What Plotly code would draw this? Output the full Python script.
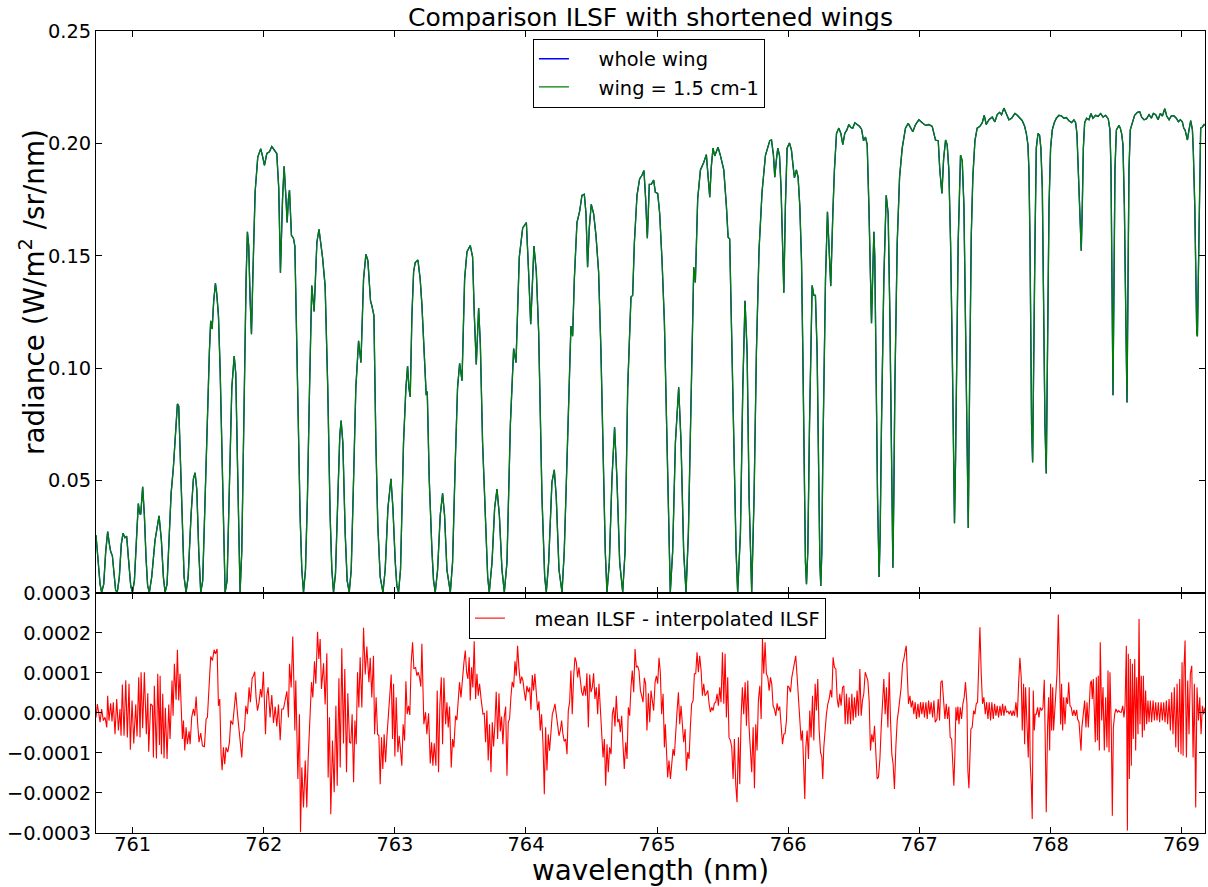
import plotly.graph_objects as go
from plotly.subplots import make_subplots

# ---------------- top panel: radiance spectrum (nm, W/m2/sr/nm) ----------------
wavelength_top = [
    760.720, 760.738, 760.751, 760.763, 760.779, 760.794, 760.809, 760.822, 760.832, 760.845,
    760.858, 760.870, 760.883, 760.898, 760.913, 760.926, 760.941, 760.954, 760.970, 760.985,
    760.998, 761.013, 761.031, 761.043, 761.053, 761.061, 761.076, 761.089, 761.102, 761.114,
    761.127, 761.145, 761.170, 761.201, 761.219, 761.234, 761.247, 761.262, 761.277, 761.293,
    761.310, 761.326, 761.341, 761.351, 761.364, 761.379, 761.392, 761.407, 761.423, 761.445,
    761.463, 761.476, 761.489, 761.504, 761.519, 761.534, 761.552, 761.565, 761.578, 761.585,
    761.595, 761.606, 761.618, 761.631, 761.641, 761.654, 761.667, 761.679, 761.692, 761.705,
    761.720, 761.738, 761.756, 761.774, 761.786, 761.799, 761.809, 761.819, 761.832, 761.850,
    761.865, 761.875, 761.885, 761.896, 761.906, 761.916, 761.924, 761.934, 761.954, 761.977,
    761.992, 762.005, 762.023, 762.043, 762.061, 762.079, 762.099, 762.114, 762.127, 762.143,
    762.155, 762.168, 762.178, 762.188, 762.196, 762.211, 762.226, 762.237, 762.252, 762.265,
    762.277, 762.290, 762.303, 762.318, 762.333, 762.349, 762.366, 762.384, 762.405, 762.421,
    762.448, 762.468, 762.488, 762.506, 762.519, 762.532, 762.547, 762.565, 762.580, 762.590,
    762.603, 762.621, 762.636, 762.652, 762.667, 762.685, 762.702, 762.723, 762.741, 762.761,
    762.779, 762.794, 762.814, 762.825, 762.840, 762.855, 762.870, 762.888, 762.909, 762.926,
    762.947, 762.970, 762.985, 763.003, 763.015, 763.028, 763.043, 763.066, 763.084, 763.097,
    763.107, 763.117, 763.130, 763.143, 763.155, 763.176, 763.193, 763.206, 763.224, 763.239,
    763.247, 763.262, 763.283, 763.295, 763.308, 763.326, 763.346, 763.364, 763.379, 763.397,
    763.423, 763.440, 763.461, 763.478, 763.494, 763.512, 763.532, 763.550, 763.575, 763.593,
    763.606, 763.621, 763.639, 763.652, 763.669, 763.695, 763.708, 763.720, 763.741, 763.761,
    763.779, 763.797, 763.817, 763.835, 763.855, 763.881, 763.906, 763.924, 763.949, 763.975,
    764.003, 764.020, 764.036, 764.046, 764.061, 764.079, 764.097, 764.122, 764.143,
    764.155, 764.173, 764.198, 764.216, 764.231, 764.252, 764.275, 764.292, 764.313, 764.328,
    764.343, 764.356, 764.369, 764.389, 764.409, 764.427, 764.445, 764.458, 764.470, 764.483,
    764.498, 764.516, 764.534, 764.554, 764.572, 764.593, 764.605, 764.618, 764.636, 764.656,
    764.676, 764.694, 764.715, 764.738, 764.756, 764.776, 764.801, 764.814, 764.827, 764.847,
    764.867, 764.885, 764.900, 764.913, 764.926, 764.941, 764.956, 764.974, 764.987, 765.005,
    765.020, 765.038, 765.056, 765.076, 765.089, 765.101, 765.119, 765.140, 765.165, 765.183,
    765.203, 765.221, 765.239, 765.254, 765.267, 765.280, 765.292, 765.310, 765.331, 765.356,
    765.376, 765.389, 765.402, 765.414, 765.427, 765.440, 765.465, 765.483, 765.509, 765.529,
    765.542, 765.554, 765.572, 765.590, 765.603, 765.615, 765.636, 765.654, 765.671, 765.687,
    765.702, 765.722, 765.740, 765.758, 765.778, 765.801, 765.827, 765.860,
    765.873, 765.888, 765.898, 765.911, 765.921, 765.934, 765.946, 765.957, 765.967, 765.979,
    765.992, 766.010, 766.025, 766.038, 766.048, 766.063, 766.076, 766.089, 766.102, 766.112,
    766.122, 766.132, 766.140, 766.150, 766.163, 766.173, 766.183, 766.196, 766.208, 766.221,
    766.234, 766.242, 766.249, 766.257, 766.264, 766.275, 766.285, 766.300, 766.310, 766.325,
    766.341, 766.353, 766.369, 766.387, 766.402, 766.417, 766.432, 766.448, 766.463, 766.478,
    766.493, 766.509, 766.526, 766.544, 766.560, 766.575, 766.590, 766.603, 766.616, 766.626,
    766.636, 766.646, 766.654, 766.661, 766.672, 766.682, 766.694, 766.702, 766.712, 766.730,
    766.748, 766.763, 766.776, 766.789, 766.799, 766.806, 766.814, 766.832, 766.850, 766.870,
    766.895, 766.916, 766.934, 766.951, 766.972, 766.997, 767.023, 767.048, 767.074, 767.099,
    767.112, 767.124, 767.145, 767.157, 767.173, 767.186, 767.201, 767.213, 767.226, 767.239,
    767.252, 767.262, 767.269, 767.277, 767.287, 767.297, 767.315, 767.328, 767.341, 767.353,
    767.364, 767.374, 767.384, 767.397, 767.409, 767.425, 767.442, 767.463, 767.481, 767.496,
    767.511, 767.532, 767.557,
    767.577, 767.595, 767.613, 767.628, 767.646, 767.664, 767.684, 767.705, 767.730, 767.748,
    767.766, 767.786, 767.804, 767.817, 767.829, 767.837, 767.845, 767.852, 767.857, 767.865,
    767.873, 767.883, 767.893, 767.906, 767.918, 767.928, 767.939, 767.949, 767.959, 767.969,
    767.979, 767.990, 768.002, 768.015, 768.030, 768.046, 768.066, 768.086, 768.104, 768.122,
    768.142, 768.163, 768.180, 768.193, 768.203, 768.213, 768.221, 768.229, 768.236, 768.244,
    768.252, 768.262, 768.277, 768.295, 768.310, 768.325, 768.346, 768.364, 768.384, 768.402,
    768.422, 768.442, 768.455, 768.463, 768.468, 768.473, 768.478, 768.486, 768.493, 768.504,
    768.514, 768.524, 768.534, 768.544, 768.554, 768.565, 768.572, 768.580, 768.585, 768.593,
    768.600, 768.610, 768.626, 768.643, 768.664, 768.682, 768.697, 768.715, 768.733, 768.753,
    768.771, 768.786, 768.804, 768.822, 768.839, 768.855, 768.873, 768.888, 768.906, 768.923,
    768.944, 768.961, 768.977, 768.992, 769.007, 769.018, 769.028, 769.038, 769.046, 769.058,
    769.071, 769.084, 769.091, 769.102, 769.109, 769.117, 769.122, 769.129, 769.137, 769.147,
    769.160, 769.173, 769.180,
]

radiance_short_wing = [
    0.0257, 0.0120, 0.0039, 0.0003, 0.0039, 0.0184, 0.0273, 0.0217, 0.0184, 0.0165,
    0.0071, 0.0010, 0.0006, 0.0071, 0.0217, 0.0265, 0.0246, 0.0252, 0.0136, 0.0031,
    0.0003, 0.0055, 0.0265, 0.0398, 0.0354, 0.0349, 0.0472, 0.0346, 0.0152, 0.0031,
    0.0003, 0.0071, 0.0233, 0.0343, 0.0233, 0.0071, 0.0003, 0.0039, 0.0233, 0.0443,
    0.0556, 0.0702, 0.0841, 0.0831, 0.0589, 0.0265, 0.0071, 0.0003, 0.0071, 0.0346,
    0.0508, 0.0535, 0.0459, 0.0184, 0.0003, 0.0055, 0.0427, 0.0750, 0.0912, 0.1074,
    0.1211, 0.1174, 0.1300, 0.1378, 0.1332, 0.1235, 0.0993, 0.0669, 0.0265, 0.0003,
    0.0055, 0.0427, 0.0912, 0.1054, 0.0977, 0.0589, 0.0184, 0.0003, 0.0184, 0.0912,
    0.1397, 0.1607, 0.1543, 0.1300, 0.1151, 0.1397, 0.1624, 0.1785, 0.1939, 0.1976,
    0.1939, 0.1902, 0.1955, 0.1963, 0.1986, 0.1971, 0.1955, 0.1801, 0.1425, 0.1753,
    0.1898, 0.1769, 0.1648, 0.1753, 0.1792, 0.1591, 0.1578, 0.1543, 0.1074, 0.0669,
    0.0346, 0.0103, 0.0003, 0.0103, 0.0427, 0.0912, 0.1368, 0.1252, 0.1559, 0.1618,
    0.1494, 0.1365, 0.0912, 0.0346, 0.0103, 0.0003, 0.0087, 0.0427, 0.0702, 0.0767,
    0.0669, 0.0265, 0.0055, 0.0003, 0.0103, 0.0508, 0.0912, 0.1122, 0.1025, 0.1397,
    0.1507, 0.1478, 0.1300, 0.1276, 0.1235, 0.0669, 0.0298, 0.0071, 0.0003, 0.0103,
    0.0378, 0.0508, 0.0378, 0.0136, 0.0031, 0.0003, 0.0103, 0.0669, 0.0912, 0.1009,
    0.0912, 0.0872, 0.1235, 0.1429, 0.1470, 0.1481, 0.1397, 0.1284, 0.1074, 0.0880,
    0.0896, 0.0508, 0.0184, 0.0055, 0.0003, 0.0103, 0.0346, 0.0443, 0.0346, 0.0103,
    0.0003, 0.0136, 0.0589, 0.0912, 0.1022, 0.0944, 0.1397, 0.1518, 0.1546, 0.1494,
    0.1235, 0.1017, 0.1268, 0.1106, 0.0669, 0.0265, 0.0071, 0.0003, 0.0136, 0.0378,
    0.0462, 0.0346, 0.0103, 0.0003, 0.0136, 0.0750, 0.1087, 0.1025, 0.1494, 0.1624,
    0.1648, 0.1429, 0.1195, 0.1332, 0.1543, 0.1429, 0.1155, 0.0427, 0.0071,
    0.0003, 0.0136, 0.0492, 0.0548, 0.0427, 0.0103, 0.0003, 0.0184, 0.0589, 0.0912,
    0.1187, 0.1142, 0.1397, 0.1648, 0.1696, 0.1769, 0.1774, 0.1688, 0.1449, 0.1624,
    0.1729, 0.1688, 0.1591, 0.1429, 0.1074, 0.0508, 0.0184, 0.0003, 0.0136, 0.0508,
    0.0737, 0.0508, 0.0136, 0.0003, 0.0184, 0.0912, 0.1316, 0.1324, 0.1559, 0.1769,
    0.1842, 0.1858, 0.1879, 0.1753, 0.1578, 0.1818, 0.1818, 0.1837, 0.1782, 0.1777,
    0.1688, 0.1478, 0.1203, 0.0669, 0.0265, 0.0003, 0.0184, 0.0669, 0.0915, 0.0669,
    0.0184, 0.0003, 0.0265, 0.0750, 0.1155, 0.1449, 0.1381, 0.1753, 0.1882, 0.1915,
    0.1950, 0.1850, 0.1761, 0.1898, 0.1979, 0.1944, 0.1983, 0.1947, 0.1882, 0.1721,
    0.1583, 0.1575, 0.1074, 0.0508, 0.0184, 0.0003, 0.0265, 0.0912, 0.1300, 0.1074,
    0.0427, 0.0003, 0.0427, 0.1074, 0.1527, 0.1785, 0.1947, 0.2012,
    0.2015, 0.1947, 0.1850, 0.1931, 0.1979, 0.1947, 0.1801, 0.1559, 0.1336, 0.1721,
    0.1979, 0.2002, 0.1971, 0.1898, 0.1847, 0.1882, 0.1850, 0.1721, 0.1478, 0.1074,
    0.0508, 0.0136, 0.0039, 0.0184, 0.0750, 0.1155, 0.1368, 0.1324, 0.1324, 0.1074,
    0.0427, 0.0136, 0.0031, 0.0184, 0.0589, 0.1074, 0.1397, 0.1696, 0.1559, 0.1365,
    0.1688, 0.1882, 0.2044, 0.2068, 0.2044, 0.1995, 0.2044, 0.2060, 0.2084, 0.2071,
    0.2068, 0.2092, 0.2084, 0.2076, 0.2063, 0.2012, 0.2028, 0.1995, 0.1721, 0.1478,
    0.1200, 0.1429, 0.1607, 0.1494, 0.0912, 0.0427, 0.0071, 0.0265, 0.0750, 0.1397,
    0.1769, 0.1688, 0.1235, 0.0589, 0.0112, 0.0427, 0.0912, 0.1559, 0.1850, 0.1979,
    0.2068, 0.2089, 0.2068, 0.2052, 0.2084, 0.2105, 0.2092, 0.2080, 0.2084, 0.2076,
    0.2044, 0.2015, 0.2012, 0.1882, 0.1777, 0.1931, 0.2015, 0.1995, 0.1882, 0.1559,
    0.1074, 0.0589, 0.0310, 0.0589, 0.1155, 0.1559, 0.1947, 0.1923, 0.1721, 0.1235,
    0.0669, 0.0289, 0.0912, 0.1591, 0.1850, 0.2012, 0.2068, 0.2076, 0.2092, 0.2125,
    0.2084, 0.2105, 0.2117,
    0.2096, 0.2128, 0.2138, 0.2128, 0.2157, 0.2133, 0.2105, 0.2112, 0.2133, 0.2125,
    0.2112, 0.2101, 0.2076, 0.2044, 0.1995, 0.1882, 0.1559, 0.1074, 0.0750, 0.0581,
    0.0912, 0.1559, 0.1979, 0.2044, 0.2036, 0.1979, 0.1801, 0.1235, 0.0750, 0.0532,
    0.1074, 0.1721, 0.1979, 0.2060, 0.2092, 0.2112, 0.2125, 0.2122, 0.2112, 0.2115,
    0.2101, 0.2092, 0.2105, 0.2092, 0.2044, 0.1882, 0.1721, 0.1591, 0.1523, 0.1721,
    0.1979, 0.2092, 0.2112, 0.2105, 0.2133, 0.2112, 0.2125, 0.2120, 0.2133, 0.2117,
    0.2125, 0.2109, 0.2060, 0.1882, 0.1559, 0.1155, 0.0880, 0.1397, 0.1882, 0.2060,
    0.2068, 0.2080, 0.2068, 0.2044, 0.1995, 0.1721, 0.1397, 0.1074, 0.0847, 0.1397,
    0.1882, 0.2060, 0.2092, 0.2125, 0.2138, 0.2141, 0.2117, 0.2105, 0.2109, 0.2128,
    0.2112, 0.2133, 0.2128, 0.2105, 0.2133, 0.2122, 0.2154, 0.2122, 0.2105, 0.2122,
    0.2122, 0.2112, 0.2096, 0.2105, 0.2096, 0.2068, 0.2060, 0.2036, 0.2015, 0.2060,
    0.2101, 0.2060, 0.1963, 0.1721, 0.1397, 0.1155, 0.1142, 0.1397, 0.1801, 0.2068,
    0.2073, 0.2084, 0.2080,
]

# "whole wing" and "wing = 1.5 cm-1" are indistinguishable at this scale
radiance_whole_wing = list(radiance_short_wing)

# ---------------- bottom panel: mean ILSF - interpolated ILSF ----------------
wavelength_res = [
    760.720, 760.730, 760.740, 760.751, 760.763, 760.776, 760.789, 760.802, 760.809, 760.819,
    760.832, 760.842, 760.852, 760.865, 760.878, 760.891, 760.903, 760.911, 760.921, 760.934,
    760.947, 760.959, 760.972, 760.982, 760.995, 761.008, 761.023, 761.033, 761.046, 761.056,
    761.064, 761.076, 761.089, 761.104, 761.115, 761.122, 761.137, 761.150, 761.158, 761.165,
    761.181, 761.191, 761.204, 761.209, 761.219, 761.229, 761.239, 761.249, 761.262, 761.275,
    761.285, 761.300, 761.308, 761.318, 761.331, 761.341, 761.351, 761.361, 761.369, 761.379,
    761.387, 761.397, 761.407, 761.417, 761.430, 761.438, 761.450, 761.463, 761.473, 761.484,
    761.494, 761.506, 761.519, 761.532, 761.547, 761.560, 761.570, 761.585, 761.595, 761.608,
    761.621, 761.631, 761.644, 761.654, 761.664, 761.674, 761.682, 761.692, 761.702, 761.712,
    761.725, 761.738, 761.748, 761.763, 761.774, 761.786, 761.799, 761.812, 761.824, 761.832,
    761.842, 761.852, 761.863, 761.875, 761.888, 761.898, 761.911, 761.921, 761.931, 761.941,
    761.952, 761.964, 761.975, 761.985, 761.997, 762.013, 762.023, 762.033, 762.048, 762.061,
    762.074, 762.087, 762.099, 762.112, 762.125, 762.137, 762.150, 762.163, 762.176, 762.188,
    762.196, 762.209, 762.221, 762.229, 762.237, 762.244, 762.252, 762.260, 762.272, 762.280,
    762.290, 762.303, 762.316, 762.328, 762.338, 762.346, 762.354, 762.364, 762.374, 762.387,
    762.397, 762.410, 762.420, 762.430, 762.440, 762.456, 762.468, 762.481, 762.491, 762.501,
    762.511, 762.524, 762.537, 762.550, 762.560, 762.573, 762.583, 762.595, 762.608, 762.618,
    762.631, 762.641, 762.654, 762.664, 762.674, 762.685, 762.695, 762.705, 762.715, 762.725,
    762.735, 762.748, 762.761, 762.774, 762.786, 762.802, 762.812, 762.824, 762.837,
    762.845, 762.857, 762.868, 762.878, 762.888, 762.898, 762.908, 762.918, 762.929, 762.939,
    762.951, 762.962, 762.972, 762.982, 762.990, 763.000, 763.010, 763.023, 763.033, 763.043,
    763.053, 763.063, 763.074, 763.084, 763.094, 763.104, 763.114, 763.124, 763.135, 763.145,
    763.158, 763.168, 763.178, 763.188, 763.198, 763.206, 763.214, 763.221, 763.234, 763.244,
    763.257, 763.270, 763.280, 763.290, 763.300, 763.313, 763.323, 763.333, 763.343, 763.354,
    763.364, 763.374, 763.387, 763.397, 763.407, 763.417, 763.430, 763.440, 763.450, 763.463,
    763.473, 763.483, 763.493, 763.504, 763.516, 763.527, 763.537, 763.547, 763.557, 763.567,
    763.575, 763.585, 763.595, 763.605, 763.616, 763.626, 763.636, 763.646, 763.659, 763.672,
    763.682, 763.692, 763.702, 763.712, 763.722, 763.733, 763.743, 763.753, 763.763, 763.773,
    763.784, 763.794, 763.804, 763.814, 763.824, 763.834, 763.845, 763.855, 763.865, 763.875,
    763.885, 763.895, 763.906, 763.916, 763.926, 763.936, 763.946, 763.957, 763.967, 763.977,
    763.987, 763.997, 764.007, 764.018, 764.028, 764.038, 764.048, 764.058, 764.068, 764.079,
    764.089, 764.099, 764.109, 764.119, 764.130, 764.140, 764.150, 764.160, 764.170, 764.180,
    764.191, 764.201, 764.211, 764.221, 764.231, 764.241, 764.252, 764.262, 764.272, 764.282,
    764.292, 764.303, 764.313, 764.323, 764.333, 764.343, 764.353, 764.364, 764.374, 764.384,
    764.394, 764.404, 764.415, 764.425, 764.435, 764.445, 764.455, 764.465, 764.476, 764.486,
    764.496, 764.506, 764.516, 764.526, 764.537, 764.547, 764.557, 764.567, 764.577, 764.588,
    764.598, 764.608, 764.618, 764.628, 764.638, 764.649, 764.659, 764.669, 764.679, 764.689,
    764.700, 764.710, 764.720, 764.730, 764.740, 764.750, 764.761, 764.771, 764.781, 764.791,
    764.801, 764.811, 764.822, 764.832, 764.842, 764.852, 764.862, 764.873, 764.883, 764.893,
    764.903, 764.913, 764.923, 764.934, 764.944, 764.954, 764.964, 764.974, 764.985,
    764.995, 765.005, 765.015, 765.025, 765.035, 765.046, 765.056, 765.063, 765.071, 765.081,
    765.091, 765.102, 765.112, 765.122, 765.132, 765.142, 765.152, 765.163, 765.173, 765.183,
    765.193, 765.203, 765.214, 765.224, 765.234, 765.244, 765.254, 765.264, 765.275, 765.285,
    765.295, 765.305, 765.315, 765.325, 765.336, 765.346, 765.356, 765.366, 765.376, 765.387,
    765.397, 765.407, 765.417, 765.427, 765.437, 765.448, 765.458, 765.468, 765.478, 765.488,
    765.499, 765.509, 765.519, 765.529, 765.539, 765.549, 765.560, 765.570, 765.580, 765.590,
    765.600, 765.610, 765.621, 765.631, 765.641, 765.651, 765.661, 765.672, 765.682, 765.692,
    765.702, 765.712, 765.722, 765.733, 765.743, 765.753, 765.763, 765.773, 765.784, 765.794,
    765.804, 765.814, 765.824, 765.834, 765.845, 765.855, 765.865, 765.875, 765.885, 765.895,
    765.906, 765.916, 765.926, 765.936, 765.946, 765.957, 765.967, 765.977, 765.987, 765.997,
    766.007, 766.018, 766.028, 766.038, 766.048, 766.058, 766.068, 766.079, 766.089, 766.099,
    766.109, 766.119, 766.127, 766.135, 766.145, 766.155, 766.165, 766.175, 766.186, 766.196,
    766.206, 766.216, 766.226, 766.236, 766.247, 766.257, 766.264, 766.272, 766.282, 766.292,
    766.303, 766.313, 766.323, 766.333, 766.343, 766.353, 766.364, 766.374, 766.384, 766.394,
    766.404, 766.415, 766.425, 766.435, 766.445, 766.455, 766.465, 766.476, 766.486, 766.496,
    766.506, 766.516, 766.526, 766.537, 766.547, 766.557, 766.567, 766.577, 766.588, 766.598,
    766.608, 766.618, 766.628, 766.638, 766.649, 766.659, 766.669, 766.679, 766.689, 766.700,
    766.710, 766.720, 766.730, 766.740, 766.750, 766.761, 766.771, 766.781, 766.791, 766.801,
    766.811, 766.822, 766.832, 766.842, 766.852, 766.862, 766.873, 766.883, 766.893, 766.901,
    766.908, 766.918, 766.929, 766.939, 766.949, 766.959, 766.969, 766.979, 766.990, 767.000,
    767.010, 767.020, 767.030, 767.040, 767.051, 767.061, 767.071, 767.081, 767.091, 767.102,
    767.112, 767.122,
    767.135, 767.145, 767.155, 767.165, 767.175, 767.186, 767.196, 767.206, 767.216, 767.226,
    767.236, 767.247, 767.257, 767.264, 767.272, 767.280, 767.287, 767.295, 767.303, 767.313,
    767.323, 767.333, 767.343, 767.353, 767.364, 767.371, 767.379, 767.387, 767.394, 767.404,
    767.415, 767.425, 767.435, 767.445, 767.455, 767.463, 767.473, 767.483, 767.493, 767.504,
    767.514, 767.524, 767.534, 767.544, 767.554, 767.565, 767.575, 767.585, 767.595, 767.605,
    767.616, 767.626, 767.636, 767.646, 767.656, 767.666, 767.677, 767.687, 767.697, 767.707,
    767.717, 767.727, 767.738, 767.748, 767.758, 767.768, 767.778, 767.786, 767.796, 767.804,
    767.811, 767.822, 767.832, 767.839, 767.847, 767.855, 767.862, 767.870, 767.878, 767.885,
    767.893, 767.903, 767.913, 767.923, 767.934, 767.944, 767.954, 767.962, 767.969, 767.979,
    767.987, 767.995, 768.002, 768.010, 768.018, 768.025, 768.033, 768.043, 768.051, 768.061,
    768.071, 768.079, 768.086, 768.094, 768.102, 768.112, 768.122, 768.132, 768.140, 768.150,
    768.160, 768.170, 768.180, 768.191, 768.201, 768.208, 768.219, 768.226, 768.234, 768.241,
    768.252, 768.262, 768.272, 768.280, 768.290, 768.297, 768.305, 768.313, 768.320, 768.328,
    768.336, 768.343, 768.351, 768.359, 768.366, 768.374, 768.381, 768.392, 768.402, 768.412,
    768.422, 768.432, 768.440, 768.448, 768.455, 768.465, 768.473, 768.481, 768.491, 768.501,
    768.511, 768.521, 768.532, 768.542, 768.552, 768.562, 768.570, 768.580, 768.588, 768.595,
    768.603, 768.610, 768.618, 768.626, 768.633, 768.644, 768.651, 768.659, 768.669, 768.677,
    768.684, 768.694, 768.702, 768.710, 768.717, 768.727, 768.735, 768.745, 768.753, 768.763,
    768.773, 768.784, 768.794, 768.804, 768.814, 768.824, 768.834, 768.845, 768.855, 768.865,
    768.875, 768.885, 768.895, 768.906, 768.916, 768.926, 768.936, 768.946, 768.957, 768.967,
    768.977, 768.987, 768.997, 769.005, 769.013, 769.020, 769.028, 769.038, 769.048, 769.058,
    769.068, 769.079, 769.089, 769.099, 769.109, 769.119, 769.130, 769.140, 769.150, 769.160,
    769.170, 769.180,
]

# residual values in units of 1e-4 W/m2/sr/nm
residual_e4 = [
    -0.11, 0.22, 0.02, -0.23, 0.10, -0.19, -0.11, -0.36, 0.43, -0.19,
    0.24, -0.21, 0.27, -0.53, 0.35, -0.44, 0.10, -0.57, 0.71, -0.57,
    0.82, -0.61, 0.73, -0.92, 0.31, -0.76, 0.21, -0.59, 0.89, -0.61,
    1.02, -0.38, 1.02, -0.53, 0.49, -0.97, 0.23, 0.18, -1.11, 0.68,
    -1.14, 0.98, -0.80, 0.93, -1.03, 0.48, -1.13, 0.13, -1.15, 0.21,
    -0.65, 0.81, -0.07, 1.23, 0.33, 1.58, 0.31, 0.98, 0.23, -0.65,
    -0.19, -0.94, -0.36, -0.78, -0.46, -0.78, -0.11, 0.10, -0.07, 0.41,
    -0.19, -0.73, -0.50, -0.82, -0.84, -0.15, -0.11, 0.85, 1.41, 1.31,
    1.58, 1.48, 1.60, 0.18, 0.35, -1.03, -1.43, -0.86, -1.28, -0.86,
    -0.98, -0.73, -0.19, -0.29, 0.18, 0.52, -0.01, -0.53, -0.84, -1.11,
    -0.51, -0.44, 0.18, -0.03, 0.64, 0.27, 0.87, 0.93, 1.03, 0.39,
    0.06, 0.27, 0.60, 0.39, 1.03, -0.53, 0.43, 0.64, -0.11, 0.45,
    -0.25, 0.16, -0.34, 0.21, -0.68, 0.10, 0.10, 0.31, 0.54, -0.11,
    1.23, 0.64, 1.91, 0.81, -0.44, 0.81, -0.44, -1.65, -0.03, -2.98,
    -1.36, -2.36, -1.19, -2.36, -1.19, -0.63, -0.30, 0.77, 0.39, 1.29,
    0.73, 2.03, 1.35, 1.85, 0.60, 1.24, 0.21, 1.49, -1.61, -0.11,
    -2.53, -0.69, -1.98, 0.18, -1.82, 0.87, -1.36, 1.62, -0.76, 1.10,
    -1.48, 0.49, -0.73, -0.76, -0.03, -1.73, -0.19, -0.78, 1.02, 0.14,
    1.39, 0.14, 2.13, 0.96, 1.66, 0.77, 1.38, 0.39, 1.43,
    -0.53, 0.39, -0.53, -0.57, -1.78, -0.61, -1.40, -0.53, -1.23, -0.61,
    0.06, 0.64, 0.96, -0.65, 0.73, -1.09, 0.39, -0.98, -0.57, -0.93,
    -1.32, -0.28, -0.69, 0.79, -0.03, 0.18, -0.05, 1.23, 1.77, 1.10,
    1.14, 0.93, 1.02, 0.89, 0.66, 1.73, 0.64, -0.28, 0.02, -0.53,
    -0.01, -1.26, -0.73, -1.32, -0.76, -1.32, 0.56, -1.48, 0.18, 0.89,
    -0.78, 0.88, -0.28, 0.27, -0.36, 0.16, -1.36, -0.65, -0.86, -0.07,
    -0.18, 0.23, 0.77, 0.39, 0.98, 1.27, 1.56, 1.02, 0.85, 1.39,
    0.31, 1.14, 0.64, 1.79, 0.35, 0.98, 0.43, 0.73, 0.31, -0.03,
    -0.01, -0.73, 0.06, -1.19, -0.28, -1.48, -0.23, -0.84, -0.28, 0.53,
    -0.65, 0.49, -0.46, -0.09, -0.78, -0.11, 0.16, -1.57, -0.23, -0.15,
    0.39, 0.78, 0.64, 1.29, 0.93, 1.68, 1.14, 0.73, 0.91, 0.81,
    0.53, 0.31, 0.68, 0.52, 0.64, 0.08, 0.95, 0.56, 0.98, 0.39,
    0.06, 0.29, -0.44, -0.03, -0.78, -2.03, -0.36, -1.44, -0.53, -0.94,
    -0.53, -0.03, 0.08, 0.23, -0.03, -0.36, -0.57, -0.44, -0.19, -0.53,
    -0.71, -0.65, -1.03, 0.06, 0.27, 1.06, -0.03, 0.93, 1.39, 1.27,
    0.89, 1.14, 0.73, 0.52, 0.43, 0.68, 0.43, 0.99, -0.36, 0.96,
    0.52, 0.64, 0.99, 0.35, 0.64, -0.03, 0.73, 0.23, -0.40, -1.11,
    -0.65, -1.82, -0.78, -1.48, -0.86, -1.03, -0.03, 0.14, -0.34, 0.43,
    -0.23, -0.15, -0.48, -0.07, -0.78, -1.40, -0.73, -1.15, 0.14, -0.07,
    0.64, 1.06, 0.52, 1.60, 1.14, 1.18, 1.06, 0.56, 0.43, 0.27,
    0.88, 0.73, -0.44, 0.49, -0.23, 0.56, 0.31, 0.06, 0.77,
    0.93, 0.73, 1.38, 1.02, -0.03, 0.48, -0.86, -0.28, -0.86, -1.61,
    -1.19, -1.65, -1.28, -0.90, -1.07, -0.36, 0.02, 0.52, -0.28, 0.18,
    -0.36, -0.73, -0.40, -1.44, -0.98, -1.15, -0.36, 0.23, 0.31, 0.98,
    0.98, 1.52, 1.02, 1.43, 1.06, 0.43, 0.73, 0.43, 0.48, 0.56,
    0.23, 0.02, 0.14, 0.06, 0.24, 0.27, 0.48, 0.18, 0.64, 0.27,
    1.52, 0.23, 1.48, -0.11, 0.89, -0.61, -0.69, -0.86, -1.65, -0.65,
    -1.78, -2.23, -0.61, -1.78, -0.11, 0.64, -0.03, 0.77, -0.32, 0.81,
    -0.36, -0.86, -1.48, -0.36, -1.88, -0.28, -0.94, 0.31, 0.68, -0.15,
    1.85, 0.98, 1.77, 0.98, 0.89, 0.56, 0.89, 0.73, 0.18, 0.10,
    -0.07, 0.24, 0.06, 0.16, -0.36, -0.78, -0.53, -0.51, -0.19, 0.68,
    0.64, 0.52, 0.89, 1.10, 1.23, 1.43, 0.93, 0.39, -0.19, -0.69,
    -0.44, -1.53, -2.15, -0.86, -0.44, -1.15, 0.06, -0.61, 0.43, -0.69,
    0.73, 0.06, 0.85, -0.40, -0.98, -1.11, -1.65, -0.86, -0.28, -0.03,
    0.23, 0.35, 0.58, 0.39, 1.39, 1.14, 1.10, 0.35, 0.14, 0.48,
    0.18, 0.64, 0.68, -0.28, 0.48, -0.28, 0.39, -0.28, 0.48, -0.19,
    0.39, -0.11, 0.56, -0.07, 1.10, -0.07, 0.31, 0.48, 1.02, 0.89,
    0.81, 0.31, -0.94, -0.53, -0.73, -0.32, -0.90, -1.65, -1.61, -1.15,
    -0.36, 0.14, 0.85, -0.03, 0.64, -0.36, 1.02, -0.19, -1.03, -1.28,
    -1.90, -0.82, -0.19, 0.06, 0.39, 0.64, 1.23, 1.35, 1.56, 1.68,
    1.06, 0.23, 0.43, 0.14, 0.31, -0.03, 0.27, -0.15, 0.23, -0.11,
    0.27, -0.03, 0.27, -0.11, 0.27, -0.15, 0.31, -0.03, 0.27, -0.11,
    0.31, -0.23,
    -0.15, 0.35, -0.19, 0.77, 0.81, 0.31, -0.15, 0.23, -0.15, 0.16,
    -0.61, -0.65, -1.28, -1.82, -1.03, 0.14, -0.19, 0.16, -0.28, 0.14,
    -0.15, 0.23, 0.39, 0.77, 0.23, -1.44, -1.88, -1.03, -0.40, -0.36,
    0.06, -0.03, 0.23, 0.27, 1.06, 2.14, 0.98, 0.23, 0.39, -0.03,
    0.27, -0.15, 0.27, -0.19, 0.27, -0.15, 0.23, -0.07, 0.18, -0.11,
    0.18, -0.07, 0.23, -0.07, 0.18, 0.02, 0.04, -0.03, 0.06, -0.07,
    0.06, -0.07, 0.27, -0.11, 0.73, 1.38, 0.89, -0.44, 0.73, -0.78,
    0.64, -0.57, -1.11, 0.64, -1.28, -1.78, -2.65, 0.56, -0.44, -0.03,
    -0.03, 0.14, -0.11, 0.14, 0.06, 0.14, 0.83, -0.86, -2.48, -0.36,
    0.39, -0.94, 0.73, -0.44, 0.64, -0.44, 0.06, 0.39, 0.98, 2.46,
    0.98, -0.29, 0.73, -0.44, 0.39, -0.28, 0.39, 0.23, 0.77, 0.18,
    0.14, -0.07, 0.08, -0.07, 0.08, -0.15, -0.23, -0.53, -0.94, -0.36,
    -0.03, 0.31, -0.36, 0.27, -0.36, 0.27, 0.73, 0.81, 0.35, 0.85,
    -0.03, -0.73, 0.89, -0.69, 0.93, -0.94, 1.77, -0.19, 0.64, -0.94,
    0.39, -0.86, 1.06, -0.98, 1.02, -0.36, -2.57, -0.36, -0.03, 0.10,
    0.02, 0.06, 0.02, 0.02, 0.18, -0.11, 0.18, 1.68, -2.94, 1.48,
    -1.65, 1.35, -1.32, 1.23, -0.65, 1.35, -0.94, 0.89, -0.53, 2.35,
    -0.28, 0.93, -0.61, 0.93, -0.44, 0.56, -0.28, 0.31, -0.23, 0.31,
    -0.23, 0.31, -0.19, 0.27, -0.19, 0.27, -0.23, 0.27, -0.19, 0.27,
    -0.23, 0.31, -0.28, 0.35, -0.44, 0.52, -0.53, 0.64, -0.86, 0.73,
    -0.98, 0.85, -1.03, 1.27, -1.07, 1.14, 1.81, -1.11, 0.81, -0.53,
    0.98, 1.18, -1.11, 0.73, -2.36, 0.64, -0.19, 0.39, -0.53, 0.18,
    -0.03, 0.14,
]
residual = [v * 1e-4 for v in residual_e4]

# ---------------- axes / ticks ----------------
x_ticks = [761, 762, 763, 764, 765, 766, 767, 768, 769]
x_ticktext = ["761", "762", "763", "764", "765", "766", "767", "768", "769"]
top_yticks = [0.0, 0.05, 0.10, 0.15, 0.20, 0.25]
top_yticktext = ["", "0.05", "0.10", "0.15", "0.20", "0.25"]
bot_yticks = [-0.0003, -0.0002, -0.0001, 0.0, 0.0001, 0.0002, 0.0003]
bot_yticktext = ["\u22120.0003", "\u22120.0002", "\u22120.0001", "0.0000",
                 "0.0001", "0.0002", "0.0003"]

FONT = "DejaVu Sans"
PAD = "\u00a0\u00a0\u00a0\u00a0"  # legend text sits further from the line sample

fig = make_subplots(rows=2, cols=1, shared_xaxes=True, vertical_spacing=0,
                    row_heights=[0.7007, 0.2993])

fig.add_trace(go.Scatter(x=wavelength_top, y=radiance_whole_wing, mode="lines",
                         name=PAD + "whole wing", line=dict(color="#0000ff", width=1.3),
                         legend="legend"), row=1, col=1)
fig.add_trace(go.Scatter(x=wavelength_top, y=radiance_short_wing, mode="lines",
                         name=PAD + "wing = 1.5 cm-1", line=dict(color="#008000", width=1.3),
                         legend="legend"), row=1, col=1)
fig.add_trace(go.Scatter(x=wavelength_res, y=residual, mode="lines",
                         name=PAD + "mean ILSF - interpolated ILSF",
                         line=dict(color="#ff0000", width=1.1),
                         legend="legend2"), row=2, col=1)

axis_common = dict(showline=True, linecolor="black", linewidth=1, mirror="ticks",
                   ticks="inside", ticklen=6, tickcolor="black", tickwidth=1,
                   showgrid=False, zeroline=False, automargin=False,
                   tickfont=dict(family=FONT, size=19.4, color="black"))

fig.update_xaxes(range=[760.72, 769.18], tickvals=x_ticks, ticktext=x_ticktext,
                 **axis_common)
fig.update_xaxes(showticklabels=False, row=1, col=1)
fig.update_xaxes(ticklabelstandoff=-6,
                 title=dict(text="wavelength (nm)",
                            font=dict(family=FONT, size=27.8, color="black")),
                 row=2, col=1)
fig.update_yaxes(range=[0, 0.25], tickvals=top_yticks, ticktext=top_yticktext,
                 row=1, col=1, **axis_common)
fig.update_yaxes(range=[-0.0003, 0.0003], tickvals=bot_yticks, ticktext=bot_yticktext,
                 row=2, col=1, **axis_common)

fig.update_layout(
    width=1208, height=887,
    margin=dict(l=96, r=3, t=31, b=54),
    paper_bgcolor="white", plot_bgcolor="white",
    font=dict(family=FONT, color="black"),
    title=dict(text="Comparison ILSF with shortened wings", x=0.5, xref="paper",
               xanchor="center", y=1 - 17 / 887, yref="container", yanchor="middle",
               font=dict(family=FONT, size=25, color="black")),
    legend=dict(x=0.394, y=0.9905, xanchor="left", yanchor="top",
                bgcolor="white", bordercolor="black", borderwidth=1,
                font=dict(family=FONT, size=19.4, color="black"),
                tracegroupgap=0),
    legend2=dict(x=0.3363, y=0.293, xanchor="left", yanchor="top",
                 bgcolor="white", bordercolor="black", borderwidth=1,
                 font=dict(family=FONT, size=19.4, color="black")),
    showlegend=True,
    annotations=[dict(text="radiance (W/m<sup>2</sup> /sr/nm)", textangle=-90,
                      xref="paper", yref="paper", x=(32 - 96) / 1109,
                      y=(833 - 292) / 802, xanchor="center", yanchor="middle",
                      showarrow=False,
                      font=dict(family=FONT, size=27.8, color="black"))],
)

fig.write_html("out.html")
